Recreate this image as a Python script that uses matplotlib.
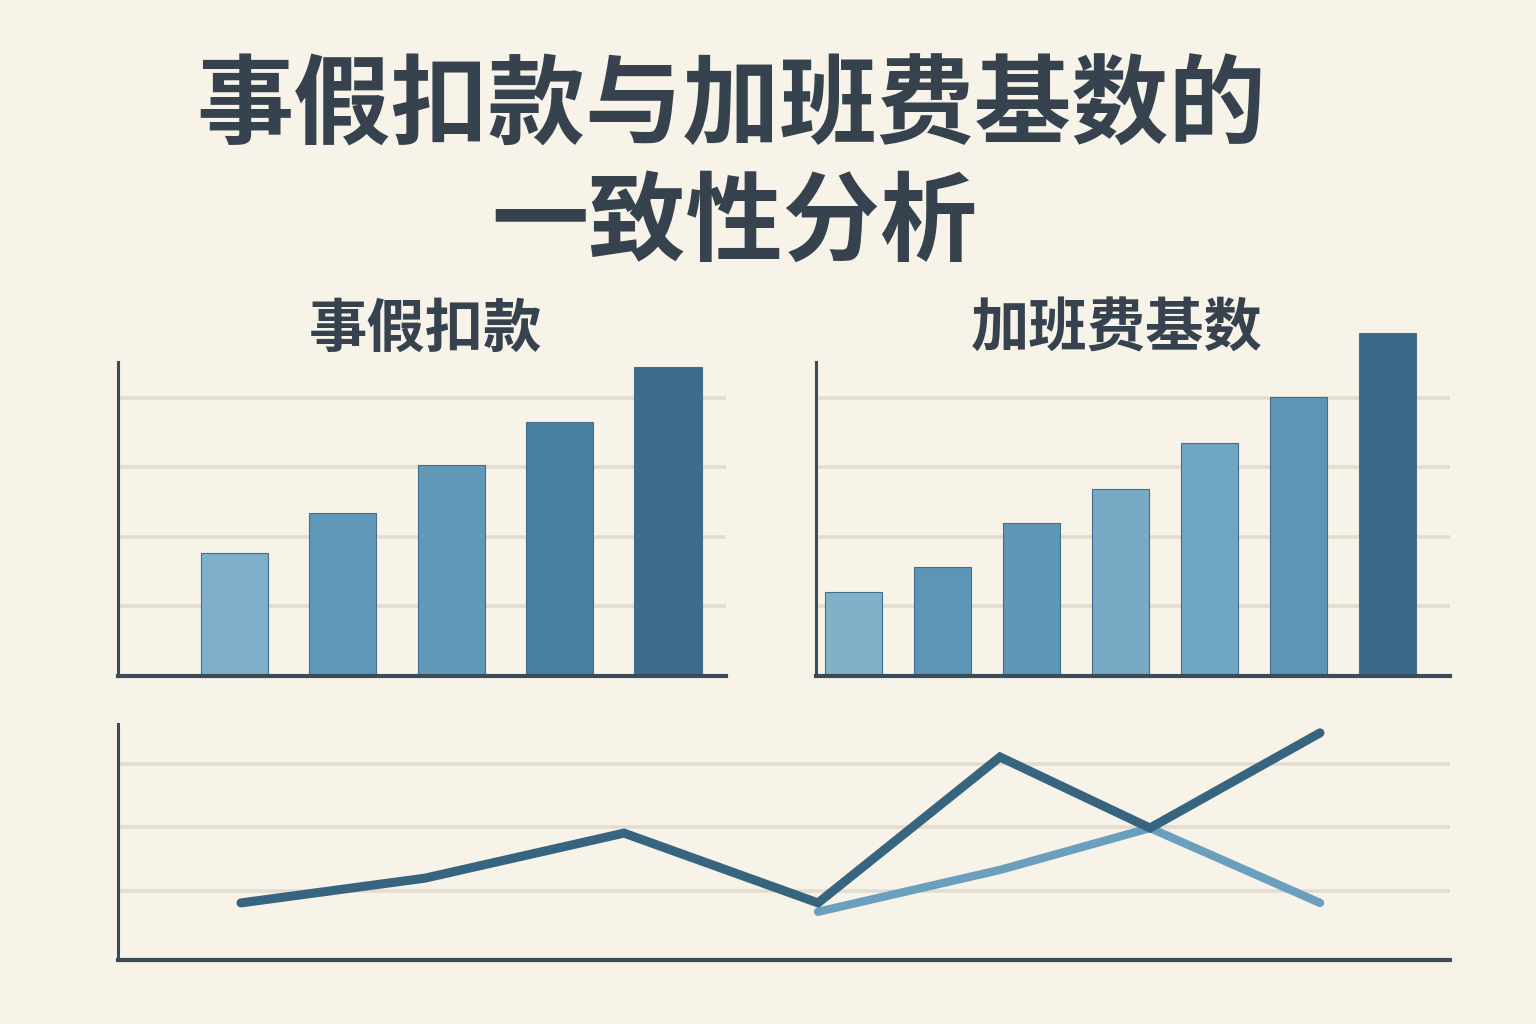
"""事假扣款与加班费基数的一致性分析 - bar and line panels."""

import matplotlib

matplotlib.use("Agg")
import matplotlib.pyplot as plt

plt.rcParams["font.family"] = ["Noto Sans CJK SC", "DejaVu Sans"]

BG = "#f8f3e8"
INK = "#36434f"
SPINE = "#3a4b5a"
GRID = "#e2ddd0"

# left panel: 事假扣款
LEAVE_VALUES = [1.77, 2.34, 3.03, 3.65, 4.44]
LEAVE_COLORS = ["#7fb0c9", "#5f98b8", "#6299b8", "#467f9f", "#3b6c8b"]

# right panel: 加班费基数
OT_VALUES = [1.21, 1.57, 2.20, 2.69, 3.35, 4.01, 4.93]
OT_COLORS = ["#80b1c9", "#5c95b5", "#5f97b6", "#76aac5", "#6fa6c2", "#5c95b5", "#3b6a88"]

# bottom panel: trend lines
DARK_X = [1.23, 3.07, 5.06, 7.00, 8.82, 10.32, 12.02]
DARK_Y = [0.81, 1.20, 1.91, 0.81, 3.11, 1.99, 3.49]
LIGHT_X = [7.00, 8.82, 10.32, 12.02]
LIGHT_Y = [0.67, 1.33, 1.99, 0.81]

W, H = 1536, 1024


def box(x0, y0, x1, y1):
    # pixel box (top-left origin) -> figure fractions
    return [x0 / W, 1 - y1 / H, (x1 - x0) / W, (y1 - y0) / H]


def style(ax, grid):
    ax.set_facecolor("none")
    for side in ("top", "right"):
        ax.spines[side].set_visible(False)
    ax.spines["left"].set_color(SPINE)
    ax.spines["left"].set_linewidth(2.2)
    ax.spines["bottom"].set_color(SPINE)
    ax.spines["bottom"].set_linewidth(3.0)
    ax.set_xticks([])
    ax.set_yticks(grid)
    ax.tick_params(axis="y", length=0, labelleft=False)
    ax.grid(axis="y", color=GRID, linewidth=2.6, zorder=0)
    ax.set_axisbelow(True)


fig = plt.figure(figsize=(W / 100, H / 100), dpi=100, facecolor=BG)

fig.text(731 / W, 1 - 108 / H, "事假扣款与加班费基数的", ha="center", va="center",
         fontsize=70, fontweight="heavy", color=INK)
fig.text(734 / W, 1 - 224 / H, "一致性分析", ha="center", va="center",
         fontsize=70, fontweight="heavy", color=INK)

ax1 = fig.add_axes(box(118, 362, 726, 676))
style(ax1, [1, 2, 3, 4])
ax1.bar(range(len(LEAVE_VALUES)), LEAVE_VALUES, width=0.62, color=LEAVE_COLORS,
        edgecolor="#3f6f8c", linewidth=0.8, zorder=2)
ax1.set_xlim(-1.075, 4.535)
ax1.set_ylim(0, 4.51)
fig.text(426 / W, 1 - 330 / H, "事假扣款", ha="center", va="center",
         fontsize=42, fontweight="bold", color=INK)

ax2 = fig.add_axes(box(816, 362, 1450, 676))
style(ax2, [1, 2, 3, 4])
bars = ax2.bar(range(len(OT_VALUES)), OT_VALUES, width=0.64, color=OT_COLORS,
               edgecolor="#3f6f8c", linewidth=0.8, zorder=2)
for b in bars:
    b.set_clip_on(False)
ax2.set_xlim(-0.42, 6.70)
ax2.set_ylim(0, 4.51)
fig.text(1117 / W, 1 - 330 / H, "加班费基数", ha="center", va="center",
         fontsize=42, fontweight="bold", color=INK)

ax3 = fig.add_axes(box(118, 724, 1450, 960))
style(ax3, [1, 2, 3])
ax3.plot(LIGHT_X, LIGHT_Y, color="#6a9fbd", linewidth=6, solid_capstyle="round",
         solid_joinstyle="miter", zorder=3)
ax3.plot(DARK_X, DARK_Y, color="#37657f", linewidth=6.5, solid_capstyle="round",
         solid_joinstyle="miter", zorder=4)
ax3.set_xlim(0, 13.32)
ax3.set_ylim(-0.09, 3.63)

fig.savefig("out.png", dpi=100, facecolor=BG)
